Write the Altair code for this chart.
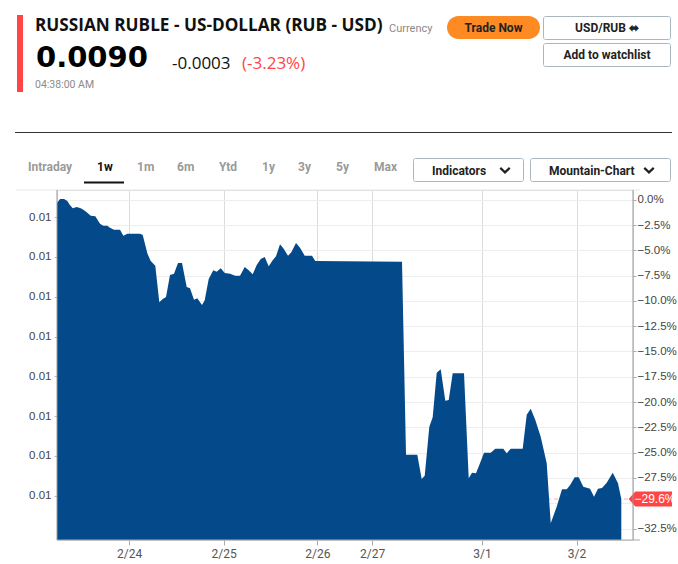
import altair as alt
import pandas as pd

# ---------------- data ----------------
# time position in "chart hours" (weekend compressed like the source chart)
T = [5.62, 6.39, 7.41, 8.25, 8.76, 9.62, 10.64, 11.66, 12.32, 13.18, 14.20, 15.37,
     16.57, 17.41, 18.43, 19.11, 20.13, 21.66, 22.50, 23.52, 26.75, 27.44, 28.61,
     29.47, 30.64, 31.66, 32.53, 33.37, 34.38, 35.40, 36.42, 37.44, 38.63, 39.47,
     40.49, 41.33, 42.53, 43.21, 44.23, 45.40, 46.27, 47.29, 48.31, 49.65, 51.00,
     52.20, 53.40, 54.41, 55.43, 56.45, 57.47, 58.49, 59.50, 60.52, 61.36, 62.38,
     63.22, 64.42, 65.26, 66.45, 67.47, 68.67, 70.52, 71.36, 93.43, 94.45, 97.32,
     98.44, 99.21, 100.38, 101.24, 102.26, 103.28, 104.45, 105.32, 106.33, 109.21,
     110.41, 111.25, 112.26, 113.28, 114.30, 116.01, 117.18, 119.21, 120.08, 121.10,
     124.15, 125.17, 126.19, 127.36, 128.73, 130.26, 131.28, 132.80, 134.15, 135.35,
     136.19, 137.38, 138.40, 139.57, 141.28, 142.30, 143.31, 144.33, 145.53, 147.06,
     148.40, 149.24]
# change vs. reference price, in percent
PCT = [-0.33, 0.07, 0.07, -0.13, -0.45, -0.85, -0.72, -0.85, -0.99, -1.25, -1.58, -1.64,
       -2.37, -2.57, -2.57, -2.77, -2.96, -2.96, -3.56, -3.36, -3.36, -3.49, -5.30,
       -6.06, -6.52, -10.14, -9.81, -9.61, -7.44, -7.31, -6.25, -6.25, -8.63, -8.75,
       -9.88, -9.74, -10.41, -9.94, -7.84, -6.98, -7.11, -6.78, -7.24, -7.31, -7.51,
       -7.51, -6.65, -6.98, -7.37, -6.45, -5.86, -5.66, -6.58, -5.99, -5.59, -4.41,
       -4.80, -5.53, -5.20, -4.28, -4.74, -5.53, -5.53, -6.06, -6.13, -25.20, -25.20,
       -27.60, -27.27, -22.43, -21.50, -17.09, -16.76, -19.86, -19.79, -17.15, -17.15,
       -27.53, -26.98, -27.04, -26.05, -25.00, -25.00, -24.60, -24.60, -25.06, -24.60,
       -24.60, -21.25, -20.65, -21.77, -23.42, -26.05, -31.98, -30.34, -28.62, -28.62,
       -28.22, -27.43, -27.43, -28.36, -28.56, -29.35, -28.56, -28.49, -27.96, -26.98,
       -28.02, -29.58]
BASE_PRICE = 0.01272

X_TICKS = [24, 48.05, 71.9, 85.82, 113.79, 137.84]
X_LABELS = ["2/24", "2/25", "2/26", "2/27", "3/1", "3/2"]
PCT_TICKS = [0, -2.5, -5, -7.5, -10, -12.5, -15, -17.5, -20, -22.5, -25, -27.5, -30, -32.5]
PRICE_TICKS = [0.0125, 0.012, 0.0115, 0.011, 0.0105, 0.010, 0.0095, 0.009]

T_DOMAIN = [5.62, 152.22]
PCT_DOMAIN = [-33.63, 0.96]

TITLE = "RUSSIAN RUBLE - US-DOLLAR (RUB - USD)"
KIND = "Currency"
PRICE_TXT = "0.0090"
CHANGE_TXT = "-0.0003"
CHANGE_PCT_TXT = "(-3.23%)"
TIME_TXT = "04:38:00 AM"
RANGES = ["Intraday", "1w", "1m", "6m", "Ytd", "1y", "3y", "5y", "Max"]
RANGE_X = [28, 97, 137, 177, 219, 262, 298, 336, 374]
ACTIVE_RANGE = "1w"
BTN_TRADE = "Trade Now"
BTN_PAIR = "USD/RUB \u2b0c"
BTN_WATCH = "Add to watchlist"
BTN_IND = "Indicators"
BTN_MOUNT = "Mountain-Chart"

# ---------------- layout ----------------
LEFT, TOP = 57, 190
W, H = 576, 350
BLUE = "#044a8b"
RED = "#ff4545"
FONT = "Roboto"
HFONT = "Open Sans"
AXFONT = "Liberation Sans"

df = pd.DataFrame({"t": T, "pct": PCT})
df["price"] = BASE_PRICE * (1 + df["pct"] / 100)
PRICE_DOMAIN = [BASE_PRICE * (1 + p / 100) for p in PCT_DOMAIN]

xscale = alt.Scale(domain=T_DOMAIN, nice=False, zero=False)
pscale = alt.Scale(domain=PCT_DOMAIN, nice=False, zero=False)
prscale = alt.Scale(domain=PRICE_DOMAIN, nice=False, zero=False)

parts = []
for i, (v, lab) in enumerate(zip(X_TICKS, X_LABELS)):
    if i < len(X_TICKS) - 1:
        mid = (v + X_TICKS[i + 1]) / 2
        parts.append(f"datum.value < {mid} ? '{lab}' : ")
    else:
        parts.append(f"'{lab}'")
x_label_expr = "".join(parts)

# the current-value tag covers the right-axis label right under it
pct_label_expr = (f"abs(datum.value - ({PCT[-1]})) < 1.5 ? '' : "
                  "format(datum.value, '.1f') + '%'")

xaxis = alt.Axis(values=X_TICKS, labelExpr=x_label_expr, title=None,
                 grid=True, gridColor="#dcdcdc", domain=False,
                 tickColor="#aaa", tickSize=5, labelColor="#555",
                 labelFontSize=12, labelFont=FONT, labelPadding=3)

one = pd.DataFrame({"k": [0]})


def txt(s, X, Y, size=12, color="#111", weight="normal", align="left", font=FONT):
    return alt.Chart(pd.DataFrame({"label": [s]})).mark_text(
        align=align, baseline="alphabetic", fontSize=size, font=font,
        fontWeight=weight, color=color
    ).encode(text="label:N", x=alt.value(X - LEFT), y=alt.value(Y - TOP))


def box(x1, x2, y1, y2, fill="white", stroke=None, radius=0, sw=1):
    kw = dict(fill=fill, cornerRadius=radius)
    if stroke:
        kw.update(stroke=stroke, strokeWidth=sw)
    return alt.Chart(one).mark_rect(**kw).encode(
        x=alt.value(x1 - LEFT), x2=alt.value(x2 - LEFT),
        y=alt.value(y1 - TOP), y2=alt.value(y2 - TOP))


def hline(x1, x2, y, color, sw=1):
    return alt.Chart(one).mark_rule(color=color, strokeWidth=sw).encode(
        x=alt.value(x1 - LEFT), x2=alt.value(x2 - LEFT), y=alt.value(y - TOP))


def vline(x, y1, y2, color, sw=1):
    return alt.Chart(one).mark_rule(color=color, strokeWidth=sw).encode(
        x=alt.value(x - LEFT), y=alt.value(y1 - TOP), y2=alt.value(y2 - TOP))


def chevron(X, Y):
    return alt.Chart(one).mark_point(
        shape="M-1,-0.45 L0,0.5 L1,-0.45", filled=False, stroke="#222",
        strokeWidth=2.2, size=90, opacity=1
    ).encode(x=alt.value(X - LEFT), y=alt.value(Y - TOP))


# ---------------- plot layers ----------------
base = alt.Chart(df)

pct_axis = base.mark_line(opacity=0).encode(
    x=alt.X("t:Q", scale=xscale, axis=xaxis),
    y=alt.Y("pct:Q", scale=pscale,
            axis=alt.Axis(orient="right", values=PCT_TICKS, title=None,
                          labelExpr=pct_label_expr,
                          grid=True, gridColor="#eeeeee", domain=False,
                          tickColor="#aaa", tickSize=3, labelPadding=1,
                          labelColor="#444", labelFontSize=11.5, labelFont=AXFONT)),
)

last = df.tail(1)
cur_rule = alt.Chart(last).mark_rule(color=RED, strokeDash=[4, 3], opacity=0.45).encode(
    y=alt.Y("pct:Q", scale=pscale, axis=None), x=alt.value(0), x2=alt.value(W))

area = base.mark_area(color=BLUE, opacity=1).encode(
    x=alt.X("t:Q", scale=xscale, axis=xaxis),
    y=alt.Y("price:Q", scale=prscale,
            axis=alt.Axis(orient="left", values=PRICE_TICKS, format=".2f", title=None,
                          grid=False, domain=False, tickColor="#bbb", tickSize=3,
                          labelPadding=3, labelColor="#444", labelFontSize=11.5,
                          labelFont=AXFONT)),
    y2=alt.datum(PRICE_DOMAIN[0]),
)

tag = alt.Chart(last).mark_point(
    shape="M-1,0 L-0.72,-0.32 L1,-0.32 L1,0.32 L-0.72,0.32 Z",
    filled=True, fill=RED, stroke=RED, size=1681, opacity=1
).encode(y=alt.Y("pct:Q", scale=pscale, axis=None), x=alt.value(650.5 - LEFT))

tag_text = alt.Chart(last).transform_calculate(
    lab="format(datum.pct, '.1f') + '%'"
).mark_text(color="white", fontSize=12, font=AXFONT, align="center", baseline="middle").encode(
    y=alt.Y("pct:Q", scale=pscale, axis=None), x=alt.value(655 - LEFT), text="lab:N")

frame = [
    hline(16, 640, 190, "#e6e6e6"),
    vline(57, 190, 540, "#999"),
    vline(633, 190, 540, "#999"),
    hline(57, 640, 540, "#aaa"),
]

# ---------------- header ----------------
header = [
    box(17, 23, 15, 92, fill=RED),
    txt(TITLE, 35, 31, size=17.2, weight="bold", color="#111", font=HFONT),
    txt(KIND, 389, 32, size=11, color="#8a8a8a"),
    txt(PRICE_TXT, 36, 67, size=29, weight="bold", color="#000", font="DejaVu Sans"),
    txt(CHANGE_TXT, 172, 69, size=17, color="#111", font=HFONT),
    txt(CHANGE_PCT_TXT, 242, 69, size=17, color=RED, font=HFONT),
    txt(TIME_TXT, 35, 88, size=10.5, color="#8a8a8a"),
    box(447, 540, 16, 39, fill="#fd8a22", radius=12),
    txt(BTN_TRADE, 493.5, 32, size=12, weight="bold", color="#222", align="center"),
    box(543.5, 670.5, 16.5, 39.5, fill="white", stroke="#a9b8be", radius=2),
    txt(BTN_PAIR, 607, 32, size=12, weight="bold", color="#222", align="center"),
    box(543.5, 670.5, 43.5, 66.5, fill="white", stroke="#a9b8be", radius=2),
    txt(BTN_WATCH, 607, 59, size=12, weight="bold", color="#222", align="center"),
    hline(15, 672, 132.5, "#333"),
]

toolbar = []
for lab, X in zip(RANGES, RANGE_X):
    active = lab == ACTIVE_RANGE
    toolbar.append(txt(lab, X, 171, size=12, weight="bold",
                       color="#111" if active else "#9a9a9a"))
toolbar += [
    box(84, 124, 181.5, 183.5, fill="#111"),
    box(413.5, 523.5, 158.5, 181.5, fill="white", stroke="#a9b8be", radius=2),
    txt(BTN_IND, 432, 175, size=12, weight="bold", color="#222"),
    chevron(505, 170),
    box(530.5, 670.5, 158.5, 181.5, fill="white", stroke="#a9b8be", radius=2),
    txt(BTN_MOUNT, 549, 175, size=12, weight="bold", color="#222"),
    chevron(649, 170),
]

chart = alt.layer(
    pct_axis, cur_rule, area, tag, tag_text, *frame, *header, *toolbar
).resolve_scale(y="independent").properties(
    width=W, height=H,
    autosize=alt.AutoSizeParams(type="none"),
    padding={"left": LEFT, "top": TOP, "right": 678 - LEFT - W, "bottom": 564 - TOP - H},
).configure_view(stroke=None).configure(background="white")

chart.save("out.html", embed_options={"renderer": "svg", "actions": False})
